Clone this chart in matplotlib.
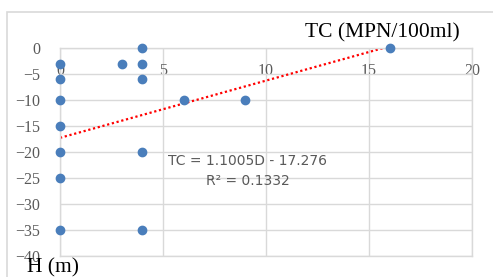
import numpy as np
import matplotlib
matplotlib.use("Agg")
import matplotlib.pyplot as plt
from matplotlib.patches import Rectangle

# depth (m) vs TC values
h_m = [0, 0, 0, 0, 0, 0, 0, 3, 4, 4, 4, 4, 4, 6, 9, 16]
tc = [-3, -6, -10, -15, -20, -25, -35, -3, 0, -3, -6, -20, -35, -10, -10, 0]
slope, intercept = 1.1005, -17.276
xticks = [0, 5, 10, 15, 20]
yticks = [0, -5, -10, -15, -20, -25, -30, -35, -40]

W, H = 493, 277
fig = plt.figure(figsize=(W / 100, H / 100), dpi=100)
fig.patches.append(Rectangle((7 / W, -0.1), 1.2, 1 - 12 / H + 0.1, transform=fig.transFigure,
                             fill=False, ec="#d9d9d9", lw=1.2))
ax = fig.add_axes([60 / W, 1 - 256 / H, (472 - 60) / W, (256 - 48) / H])

grid = "#d9d9d9"
ax.set_xlim(0, 20); ax.set_ylim(-40, 0)
ax.set_xticks(xticks); ax.set_yticks(yticks)
ax.grid(True, color=grid, lw=1)
for s in ax.spines.values():
    s.set_color(grid); s.set_linewidth(1)
ax.tick_params(length=0, colors="#595959", labelsize=11.5)
ax.xaxis.tick_top()
ax.tick_params(axis="x", pad=-22, labeltop=True)
ax.tick_params(axis="y", pad=14)
for lab in ax.get_xticklabels() + ax.get_yticklabels():
    lab.set_family("Liberation Serif")
ax.set_axisbelow(True)

xx = np.array([0, 16])
ax.plot(xx, slope * xx + intercept, ls=(0, (1, 1.2)), color="#ff0000", lw=1.6, zorder=2)
ax.scatter(h_m, tc, s=36, color="#4a7ebb", zorder=3, clip_on=False)

ax.text(5.25, -21.8, "TC = 1.1005D - 17.276", color="#595959", fontsize=10, va="center")
ax.text(7.1, -25.6, "R² = 0.1332", color="#595959", fontsize=10, va="center")

fig.text(382 / W, 1 - 33 / H, "TC (MPN/100ml)", family="Liberation Serif", fontsize=15.5,
         ha="center", va="center")
fig.text(27 / W, 1 - 268 / H, "H (m)", family="Liberation Serif", fontsize=15.5,
         ha="left", va="center")

fig.savefig("out.png", dpi=100)
